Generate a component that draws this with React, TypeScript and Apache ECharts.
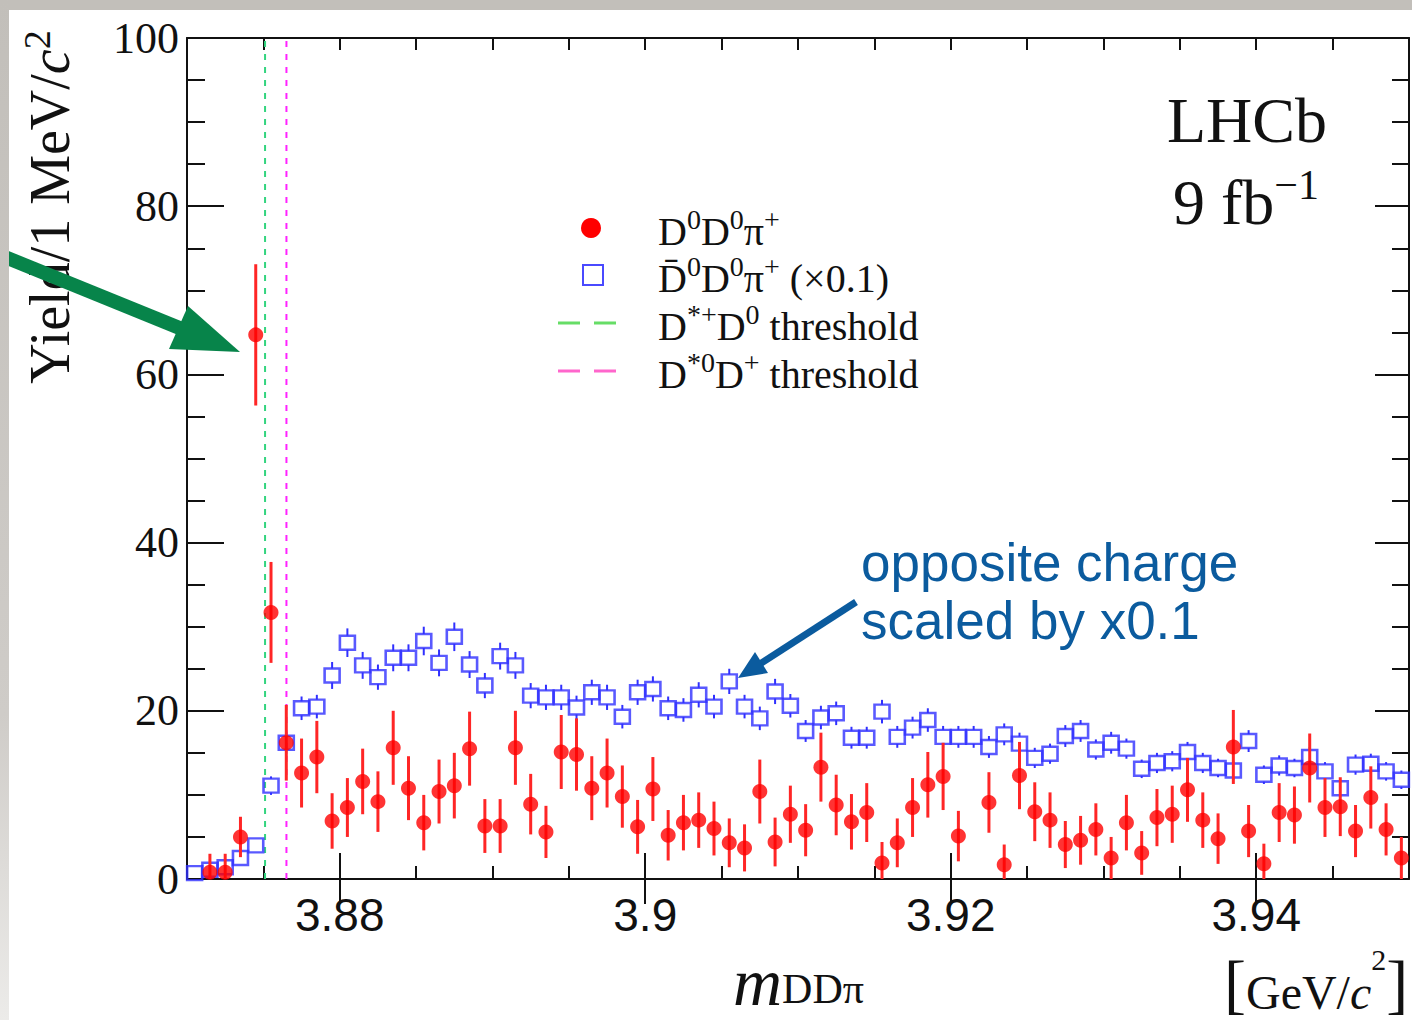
import React, { useEffect, useRef } from "react";
import * as echarts from "echarts";

// 1 MeV bins from 3.870 to 3.950 GeV
const binStart = 3.87;
const binWidth = 0.001;
const nBins = 80;

// D0 D0 pi+ yields per bin (null = empty bin)
const red = [
  null, 0.8, 0.8, 5.0, 64.7, 31.7, 16.2, 12.6, 14.5, 6.9,
  8.5, 11.6, 9.2, 15.6, 10.8, 6.7, 10.4, 11.1, 15.5, 6.3,
  6.3, 15.6, 8.9, 5.6, 15.1, 14.8, 10.8, 12.6, 9.8, 6.2,
  10.7, 5.2, 6.7, 7.0, 6.0, 4.3, 3.7, 10.4, 4.4, 7.7,
  5.8, 13.3, 8.8, 6.8, 7.9, 1.9, 4.3, 8.5, 11.2, 12.2,
  5.1, null, 9.1, 1.7, 12.3, 8.0, 7.0, 4.1, 4.6, 5.9,
  2.5, 6.7, 3.1, 7.3, 7.7, 10.6, 7.0, 4.8, 15.7, 5.7,
  1.8, 7.9, 7.6, 13.2, 8.5, 8.6, 5.7, 9.7, 5.9, 2.5,
];
const redErr = [
  0, 2.2, 2.2, 2.4, 8.4, 6.0, 4.5, 4.1, 4.3, 3.3,
  3.5, 3.9, 3.6, 4.4, 3.8, 3.3, 3.8, 3.9, 4.4, 3.2,
  3.2, 4.4, 3.6, 3.1, 4.4, 4.3, 3.8, 4.1, 3.7, 3.2,
  3.8, 3.0, 3.3, 3.3, 3.2, 2.9, 2.8, 3.8, 2.9, 3.4,
  3.1, 4.1, 3.6, 3.3, 3.5, 2.5, 2.9, 3.5, 3.9, 4.0,
  3.0, 0, 3.6, 2.4, 4.0, 3.5, 3.3, 2.8, 2.9, 3.1,
  2.5, 3.3, 2.6, 3.4, 3.4, 3.8, 3.3, 3.0, 4.4, 3.1,
  2.4, 3.5, 3.4, 4.1, 3.5, 3.5, 3.1, 3.7, 3.1, 2.5,
];

// opposite-charge Dbar0 D0 pi+ yields (x0.1)
const blue = [
  0.7, 1.1, 1.4, 2.5, 4.0, 11.1, 16.2, 20.3, 20.5, 24.2,
  28.1, 25.4, 24.0, 26.3, 26.3, 28.3, 25.7, 28.8, 25.5, 23.0,
  26.5, 25.4, 21.8, 21.6, 21.6, 20.4, 22.2, 21.6, 19.3, 22.2,
  22.6, 20.3, 20.1, 21.9, 20.5, 23.5, 20.5, 19.1, 22.3, 20.6,
  17.6, 19.2, 19.7, 16.8, 16.8, 19.9, 16.9, 18.0, 18.9, 16.9,
  16.9, 16.9, 15.7, 17.2, 16.1, 14.4, 14.9, 17.0, 17.6, 15.4,
  16.2, 15.5, 13.1, 13.8, 14.0, 15.1, 13.8, 13.2, 12.9, 16.4,
  12.4, 13.5, 13.2, 14.5, 12.8, 10.8, 13.6, 13.7, 12.8, 11.8,
];
const blueErr = [
  0.3, 0.3, 0.4, 0.5, 0.6, 1.1, 1.3, 1.4, 1.4, 1.6,
  1.7, 1.6, 1.5, 1.6, 1.6, 1.7, 1.6, 1.7, 1.6, 1.5,
  1.6, 1.6, 1.5, 1.5, 1.5, 1.4, 1.5, 1.5, 1.4, 1.5,
  1.5, 1.4, 1.4, 1.5, 1.4, 1.5, 1.4, 1.4, 1.5, 1.4,
  1.3, 1.4, 1.4, 1.3, 1.3, 1.4, 1.3, 1.3, 1.4, 1.3,
  1.3, 1.3, 1.3, 1.3, 1.3, 1.2, 1.2, 1.3, 1.3, 1.2,
  1.3, 1.2, 1.1, 1.2, 1.2, 1.2, 1.2, 1.1, 1.1, 1.3,
  1.1, 1.2, 1.1, 1.2, 1.1, 1.0, 1.2, 1.2, 1.1, 1.1,
];

// thresholds (GeV)
const thresholdDstpD0 = 3.87511;
const thresholdDst0Dp = 3.87651;

const xMajorTicks = [3.88, 3.9, 3.92, 3.94];
const xMin = 3.87;
const xMax = 3.95;
const yMin = 0;
const yMax = 100;

const SERIF = "'Liberation Serif', 'Times New Roman', serif";
const SANS = "'Liberation Sans', Arial, sans-serif";
const SANS_NARROW = "'Liberation Sans Narrow', 'Liberation Sans', Arial, sans-serif";

const legendTexts = [
  "{m|D}{s|0}{m|D}{s|0}{m|π}{s|+}",
  "{m|D\u0304}{s|0}{m|D}{s|0}{m|π}{s|+}{m| (×0.1)}",
  "{m|D}{s|*+}{m|D}{s|0}{m| threshold}",
  "{m|D}{s|*0}{m|D}{s|+}{m| threshold}",
];

export default function App() {
  const ref = useRef<HTMLDivElement>(null);
  useEffect(() => {
    if (!ref.current) return;
    const chart = echarts.init(ref.current, undefined, { renderer: "svg" });

    const centers = Array.from({ length: nBins }, (_, i) => binStart + binWidth * (i + 0.5));
    const redData = red
      .map((v, i) => (v == null ? null : [centers[i], v, redErr[i]]))
      .filter((d) => d != null);
    const blueData = blue.map((v, i) => [centers[i], v, blueErr[i]]);

    const axisLine = { show: true, onZero: false, lineStyle: { color: "#111", width: 2 } };

    const legendRich = {
      m: { fontSize: 40, fontFamily: SERIF, fill: "#111", lineHeight: 46, verticalAlign: "bottom" },
      s: { fontSize: 28, fontFamily: SERIF, fill: "#111", lineHeight: 32, verticalAlign: "top" },
    };
    const legendRows = [228, 275, 323, 371];

    const option: any = {
      animation: false,
      backgroundColor: "#ffffff",
      grid: { left: 187, top: 38, right: 3, bottom: 141, containLabel: false },
      xAxis: [
        {
          type: "value", position: "bottom", min: xMin, max: xMax, interval: 0.005,
          axisLine,
          axisTick: { show: true, inside: true, length: 13, lineStyle: { color: "#111", width: 2 } },
          axisLabel: {
            show: true, margin: 13, fontFamily: SANS_NARROW, fontSize: 46, color: "#111",
            formatter: (v: number) => {
              const k = Math.round(v * 1000);
              return k % 20 === 0 && k > 3870 && k < 3950 ? String(k / 1000) : "";
            },
          },
          splitLine: { show: false },
        },
        {
          type: "value", position: "bottom", min: xMin, max: xMax,
          axisLine: { show: false },
          axisTick: { show: true, inside: true, length: 26, customValues: xMajorTicks, lineStyle: { color: "#111", width: 2 } },
          axisLabel: { show: false },
          splitLine: { show: false },
        },
        {
          type: "value", position: "top", min: xMin, max: xMax, interval: 0.005,
          axisLine,
          axisTick: { show: true, inside: true, length: 12, lineStyle: { color: "#111", width: 2 } },
          axisLabel: { show: false },
          splitLine: { show: false },
        },
        {
          type: "value", position: "top", min: xMin, max: xMax,
          axisLine: { show: false },
          axisTick: { show: true, inside: true, length: 25, customValues: xMajorTicks, lineStyle: { color: "#111", width: 2 } },
          axisLabel: { show: false },
          splitLine: { show: false },
        },
      ],
      yAxis: [
        {
          type: "value", position: "left", min: yMin, max: yMax, interval: 20,
          axisLine,
          axisTick: { show: true, inside: true, length: 37, lineStyle: { color: "#111", width: 2 } },
          axisLabel: { show: true, margin: 8, fontFamily: SERIF, fontSize: 44, color: "#111" },
          splitLine: { show: false },
        },
        {
          type: "value", position: "left", min: yMin, max: yMax, interval: 5,
          axisLine: { show: false },
          axisTick: { show: true, inside: true, length: 18, lineStyle: { color: "#111", width: 2 } },
          axisLabel: { show: false },
          splitLine: { show: false },
        },
        {
          type: "value", position: "right", min: yMin, max: yMax, interval: 20,
          axisLine,
          axisTick: { show: true, inside: true, length: 34, lineStyle: { color: "#111", width: 2 } },
          axisLabel: { show: false },
          splitLine: { show: false },
        },
        {
          type: "value", position: "right", min: yMin, max: yMax, interval: 5,
          axisLine: { show: false },
          axisTick: { show: true, inside: true, length: 17, lineStyle: { color: "#111", width: 2 } },
          axisLabel: { show: false },
          splitLine: { show: false },
        },
      ],
      graphic: [
        { type: "rect", silent: true, z: 100, shape: { x: 0, y: 0, width: 1412, height: 10 }, style: { fill: "#c2bfba" } },
        {
          type: "rect", silent: true, z: 100, shape: { x: 0, y: 0, width: 9, height: 1020 },
          style: {
            fill: new echarts.graphic.LinearGradient(0, 0, 0, 1, [
              { offset: 0, color: "#c2bfba" },
              { offset: 0.7, color: "#cfccc8" },
              { offset: 1, color: "#ecebe9" },
            ]),
          },
        },
        // legend
        { type: "circle", silent: true, z: 60, shape: { cx: 591, cy: legendRows[0], r: 10 }, style: { fill: "#ff0000" } },
        { type: "rect", silent: true, z: 60, shape: { x: 583, y: legendRows[1] - 10, width: 20, height: 20 }, style: { fill: "none", stroke: "#4a4aff", lineWidth: 2 } },
        { type: "line", silent: true, z: 60, shape: { x1: 558, y1: legendRows[2], x2: 616, y2: legendRows[2] }, style: { stroke: "#66dd66", lineWidth: 3, lineDash: [22, 14] } },
        { type: "line", silent: true, z: 60, shape: { x1: 558, y1: legendRows[3], x2: 616, y2: legendRows[3] }, style: { stroke: "#ff66cc", lineWidth: 3, lineDash: [22, 14] } },
        ...legendTexts.map((t, i) => ({
          type: "text", silent: true, z: 60, x: 658, y: legendRows[i],
          style: { text: t, rich: legendRich, fill: "#111", align: "left", verticalAlign: "middle" },
        })),
        // y-axis title
        {
          type: "text", x: 48, y: 207, rotation: Math.PI / 2, silent: true,
          style: {
            text: "{n|Yield/1 MeV/}{i|c}{s|2}",
            align: "center", verticalAlign: "middle", fill: "#111",
            rich: {
              n: { fontSize: 56, fontFamily: SERIF, fill: "#111", lineHeight: 60, verticalAlign: "bottom" },
              i: { fontSize: 56, fontFamily: SERIF, fontStyle: "italic", fill: "#111", lineHeight: 60, verticalAlign: "bottom" },
              s: { fontSize: 38, fontFamily: SERIF, fill: "#111", lineHeight: 40, verticalAlign: "top" },
            },
          },
        },
        // x-axis title
        {
          type: "text", x: 733, y: 948, silent: true,
          style: {
            text: "{i|m}{b|DDπ}",
            align: "left", verticalAlign: "top", fill: "#111",
            rich: {
              i: { fontSize: 68, fontFamily: SERIF, fontStyle: "italic", fill: "#111", lineHeight: 62, verticalAlign: "top" },
              b: { fontSize: 42, fontFamily: SERIF, fill: "#111", lineHeight: 36, verticalAlign: "bottom" },
            },
          },
        },
        {
          type: "text", x: 1224, y: 980, silent: true,
          style: {
            text: "{k|[}{n|GeV/}{i|c}{s|2}{k|]}",
            align: "left", verticalAlign: "middle", fill: "#111",
            rich: {
              k: { fontSize: 66, fontFamily: SERIF, fill: "#111", lineHeight: 72, verticalAlign: "bottom" },
              n: { fontSize: 48, fontFamily: SERIF, fill: "#111", lineHeight: 62, verticalAlign: "bottom" },
              i: { fontSize: 48, fontFamily: SERIF, fontStyle: "italic", fill: "#111", lineHeight: 62, verticalAlign: "bottom" },
              s: { fontSize: 30, fontFamily: SERIF, fill: "#111", lineHeight: 44, verticalAlign: "top" },
            },
          },
        },
        // LHCb label
        {
          type: "text", x: 1167, y: 120, silent: true,
          style: { text: "LHCb", fontSize: 64, fontFamily: SERIF, fill: "#111", align: "left", verticalAlign: "middle" },
        },
        {
          type: "text", x: 1173, y: 199, silent: true,
          style: {
            text: "{n|9 fb}{s|−1}",
            align: "left", verticalAlign: "middle", fill: "#111",
            rich: {
              n: { fontSize: 64, fontFamily: SERIF, fill: "#111", lineHeight: 70, verticalAlign: "bottom" },
              s: { fontSize: 42, fontFamily: SERIF, fill: "#111", lineHeight: 44, verticalAlign: "top" },
            },
          },
        },
        // annotation: opposite charge
        {
          type: "text", x: 861, y: 591, silent: true,
          style: {
            text: "opposite charge\nscaled by x0.1",
            fontSize: 53, fontFamily: SANS, fill: "#0b5b9e", lineHeight: 58,
            align: "left", verticalAlign: "middle",
          },
          z: 50,
        },
        {
          type: "line", silent: true, z: 50,
          shape: { x1: 856, y1: 602, x2: 760, y2: 664 },
          style: { stroke: "#0b5b9e", lineWidth: 7 },
        },
        {
          type: "polygon", silent: true, z: 50,
          shape: { points: [[738, 678], [768, 673], [755, 652]] },
          style: { fill: "#0b5b9e" },
        },
        // annotation: green arrow to the peak
        {
          type: "line", silent: true, z: 50,
          shape: { x1: -5, y1: 253, x2: 182, y2: 329 },
          style: { stroke: "#07844a", lineWidth: 14 },
        },
        {
          type: "polygon", silent: true, z: 50,
          shape: { points: [[240, 352], [188, 306], [169, 349]] },
          style: { fill: "#07844a" },
        },
      ],
      series: [
        {
          name: "D*+D0 threshold",
          type: "line",
          data: [[thresholdDstpD0, yMin], [thresholdDstpD0, yMax]],
          symbol: "none",
          z: 1,
          lineStyle: { color: "#33d47f", width: 2, type: [6, 7] },
        },
        {
          name: "D*0D+ threshold",
          type: "line",
          data: [[thresholdDst0Dp, yMin], [thresholdDst0Dp, yMax]],
          symbol: "none",
          z: 1,
          lineStyle: { color: "#ff22ff", width: 2, type: [6, 7] },
        },
        {
          name: "blueErr",
          type: "custom",
          clip: true,
          z: 2,
          data: blueData,
          encode: { x: 0, y: 1 },
          renderItem: (params: any, api: any) => {
            const x = api.value(0);
            const v = api.value(1);
            const e = api.value(2);
            const pT = api.coord([x, v + e]);
            const pC = api.coord([x, v]);
            const pB = api.coord([x, v - e]);
            const half = 7;
            const children: any[] = [];
            if (pT[1] < pC[1] - half) {
              children.push({ type: "line", shape: { x1: pT[0], y1: pT[1], x2: pC[0], y2: pC[1] - half }, style: { stroke: "#3030ff", lineWidth: 2 } });
            }
            if (pB[1] > pC[1] + half) {
              children.push({ type: "line", shape: { x1: pB[0], y1: pB[1], x2: pC[0], y2: pC[1] + half }, style: { stroke: "#3030ff", lineWidth: 2 } });
            }
            return { type: "group", children };
          },
        },
        {
          name: "Dbar0D0pi+ (x0.1)",
          type: "scatter",
          z: 3,
          data: blueData.map((d) => [d[0], d[1]]),
          symbol: "rect",
          symbolSize: [15, 14],
          itemStyle: { color: "rgba(0,0,0,0)", borderColor: "#2f2fff", borderWidth: 2.5 },
        },
        {
          name: "redErr",
          type: "custom",
          clip: true,
          z: 4,
          data: redData,
          encode: { x: 0, y: 1 },
          renderItem: (params: any, api: any) => {
            const x = api.value(0);
            const v = api.value(1);
            const e = api.value(2);
            const pT = api.coord([x, v + e]);
            const pB = api.coord([x, v - e]);
            return { type: "line", shape: { x1: pT[0], y1: pT[1], x2: pB[0], y2: pB[1] }, style: { stroke: "#ff2626", lineWidth: 3 } };
          },
        },
        {
          name: "D0D0pi+",
          type: "scatter",
          z: 5,
          data: redData.map((d: any) => [d[0], d[1]]),
          symbol: "circle",
          symbolSize: 15,
          itemStyle: { color: "#ff0000" },
        },
      ],
    };

    chart.setOption(option);
    return () => chart.dispose();
  }, []);

  return (
    <div style={{ position: "fixed", left: 0, top: 0, width: 1412, height: 1020, background: "#fff" }}>
      <div ref={ref} style={{ width: 1412, height: 1020 }} />
    </div>
  );
}
